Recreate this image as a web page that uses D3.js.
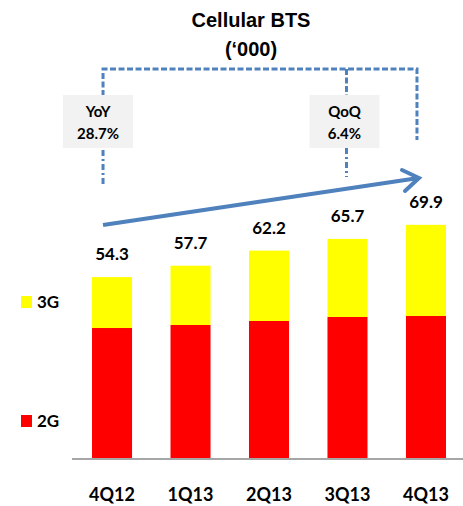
<!DOCTYPE html>
<html>
<head>
<meta charset="utf-8">
<script src="https://cdn.jsdelivr.net/npm/d3@7"></script>
<style>
  body { margin: 0; background: #fff; }
  text { font-family: Lato, "Open Sans", sans-serif; font-weight: bold; fill: #000; }
  .title { font-family: "Liberation Sans", Arial, sans-serif; font-size: 20px; }
</style>
</head>
<body>
<div id="chart"></div>
<script>
// Chart data
var categories = ["4Q12", "1Q13", "2Q13", "3Q13", "4Q13"];
var totals = [54.3, 57.7, 62.2, 65.7, 69.9];
var values2G = [39.1, 40.0, 41.2, 42.4, 42.7];
var values3G = [15.2, 17.7, 21.0, 23.3, 27.2];
var seriesNames = ["3G", "2G"];
var seriesColors = ["#ffff00", "#ff0000"];
var yoyLabel = ["YoY", "28.7%"];
var qoqLabel = ["QoQ", "6.4%"];

var svgWidth = 463;
var svgHeight = 506;

var svg = d3.select("#chart")
  .append("svg")
  .attr("width", svgWidth)
  .attr("height", svgHeight);

// Scales
var x = d3.scaleBand()
  .domain(categories)
  .range([72, 466])
  .paddingInner(0.49)
  .paddingOuter(0.255);

var y = d3.scaleLinear()
  .domain([0, 80])
  .range([459, 191]);

var stackData = categories.map(function(c, i) {
  return { cat: c, g2: values2G[i], g3: values3G[i], total: totals[i] };
});

var stack = d3.stack().keys(["g2", "g3"]);
var layers = stack(stackData);
var layerColor = { g2: seriesColors[1], g3: seriesColors[0] };

// Title
svg.append("text").attr("class", "title")
  .attr("x", 251).attr("y", 27).attr("text-anchor", "middle")
  .text("Cellular BTS");
svg.append("text").attr("class", "title")
  .attr("x", 251).attr("y", 56).attr("text-anchor", "middle")
  .text("(\u2018000)");

// Bars
svg.selectAll(".layer")
  .data(layers)
  .enter()
  .append("g")
  .attr("fill", d => layerColor[d.key])
  .selectAll("rect")
  .data(d => d)
  .enter()
  .append("rect")
  .attr("x", d => x(d.data.cat))
  .attr("y", d => y(d[1]))
  .attr("width", x.bandwidth())
  .attr("height", d => y(d[0]) - y(d[1]));

// Total labels
svg.selectAll(".total")
  .data(stackData)
  .enter()
  .append("text")
  .attr("x", d => x(d.cat) + x.bandwidth() / 2)
  .attr("y", d => y(d.total) - 17)
  .attr("text-anchor", "middle")
  .attr("font-size", 17)
  .text(d => d.total.toFixed(1));

// Baseline axis
var xAxis = d3.axisBottom(x).tickSize(0).tickPadding(30);
var axisG = svg.append("g")
  .attr("transform", "translate(0," + y(0) + ")")
  .call(xAxis);
axisG.select(".domain").attr("stroke", "#a6a6a6").attr("stroke-width", 2)
  .attr("d", "M72,0H463");
axisG.selectAll("text")
  .attr("font-size", 18)
  .attr("dy", 0)
  .attr("y", 42)
  .style("font-family", "Lato, sans-serif")
  .style("font-weight", "bold");

// Legend
var legendY = [302, 421];
seriesNames.forEach(function(name, i) {
  svg.append("rect")
    .attr("x", 21).attr("y", legendY[i] - 6)
    .attr("width", 11).attr("height", 12)
    .attr("fill", seriesColors[i]);
  svg.append("text")
    .attr("x", 37).attr("y", legendY[i] + 6)
    .attr("font-size", 17)
    .text(name);
});

// Bracket annotation (YoY / QoQ)
var blue = "#4f81bd";
var xLeft = x(categories[0]) + x.bandwidth() / 2 - 9;
var xMid = x(categories[3]) + x.bandwidth() / 2 - 1;
var xRight = x(categories[4]) + x.bandwidth() / 2 - 9;
var topY = 69;

svg.append("path")
  .attr("d", "M" + xLeft + ",96V" + topY + "H" + xRight + "V140")
  .attr("fill", "none").attr("stroke", blue).attr("stroke-width", 3)
  .attr("stroke-dasharray", "6,2.5");
svg.append("path")
  .attr("d", "M" + xMid + "," + topY + "V96")
  .attr("fill", "none").attr("stroke", blue).attr("stroke-width", 3)
  .attr("stroke-dasharray", "6,2.5");
svg.append("path")
  .attr("d", "M" + xLeft + ",150V184M" + xMid + ",148V177")
  .attr("fill", "none").attr("stroke", blue).attr("stroke-width", 3)
  .attr("stroke-dasharray", "6,3,2,3");

// Label boxes
function drawBox(cx, lines) {
  svg.append("rect")
    .attr("x", cx - 35).attr("y", 95)
    .attr("width", 70).attr("height", 53)
    .attr("fill", "#f2f2f2");
  svg.append("text")
    .attr("x", cx).attr("y", 117).attr("text-anchor", "middle")
    .attr("font-size", 15).text(lines[0]);
  svg.append("text")
    .attr("x", cx).attr("y", 139).attr("text-anchor", "middle")
    .attr("font-size", 15).text(lines[1]);
}
drawBox(xLeft - 5, yoyLabel);
drawBox(xMid - 2, qoqLabel);

// Growth arrow
var arrowStart = [xLeft, 225];
var arrowEnd = [xRight + 2, 178];
svg.append("line")
  .attr("x1", arrowStart[0]).attr("y1", arrowStart[1])
  .attr("x2", arrowEnd[0] - 2).attr("y2", arrowEnd[1] + 0.3)
  .attr("stroke", blue).attr("stroke-width", 4);
svg.append("path")
  .attr("d", "M" + (arrowEnd[0] - 17) + "," + (arrowEnd[1] - 8) +
             "L" + arrowEnd[0] + "," + arrowEnd[1] +
             "L" + (arrowEnd[0] - 14) + "," + (arrowEnd[1] + 13))
  .attr("fill", "none").attr("stroke", blue).attr("stroke-width", 4)
  .attr("stroke-linejoin", "miter").attr("stroke-linecap", "round");
</script>
</body>
</html>
